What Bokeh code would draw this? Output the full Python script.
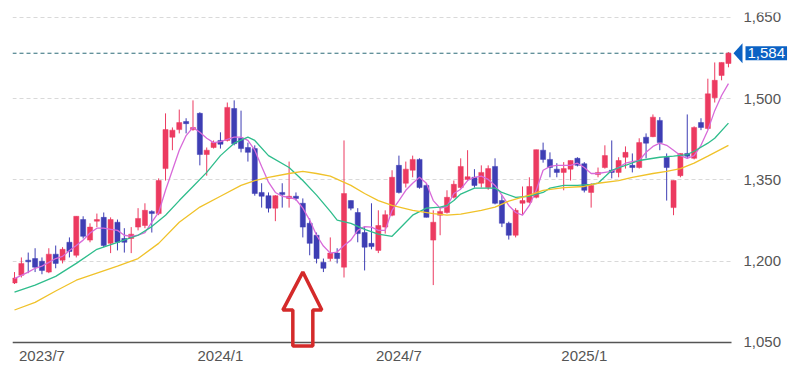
import pandas as pd
from bokeh.plotting import figure
from bokeh.models import (ColumnDataSource, Range1d, FixedTicker, DatetimeTickFormatter,
                          NumeralTickFormatter, Label, PolyAnnotation)
from bokeh.embed import file_html
from bokeh.resources import INLINE

# ---------------- data (weekly candles) ----------------
week_start = "2023-06-05"

open_ = [1160, 1174, 1202, 1205, 1200, 1180, 1213, 1202, 1235, 1211,
         1277, 1239, 1274, 1281, 1233, 1272, 1242, 1242, 1263, 1266,
         1292, 1288, 1371, 1429, 1443, 1458, 1443, 1473, 1397, 1410,
         1423, 1423, 1482, 1427, 1410, 1408, 1327, 1321, 1298, 1327,
         1316, 1320, 1307, 1270, 1248, 1198, 1205, 1215, 1189, 1312,
         1290, 1253, 1233, 1220, 1263, 1285, 1377, 1344, 1368, 1388,
         1340, 1239, 1285, 1290, 1318, 1336, 1351, 1355, 1344, 1336,
         1375, 1312, 1270, 1248, 1307, 1309, 1318, 1405, 1388, 1370,
         1364, 1370, 1390, 1380, 1327, 1360, 1373, 1368, 1364, 1392,
         1377, 1373, 1429, 1430, 1460, 1392, 1299, 1358, 1399, 1390,
         1456, 1445, 1502, 1543, 1565]
high = [1180, 1207, 1216, 1224, 1207, 1224, 1229, 1226, 1244, 1283,
        1283, 1270, 1288, 1290, 1281, 1277, 1261, 1263, 1298, 1307,
        1294, 1353, 1473, 1447, 1480, 1464, 1497, 1475, 1410, 1423,
        1438, 1493, 1497, 1478, 1419, 1414, 1344, 1327, 1322, 1344,
        1384, 1327, 1316, 1279, 1253, 1205, 1244, 1224, 1423, 1312,
        1298, 1263, 1307, 1294, 1294, 1368, 1395, 1384, 1395, 1390,
        1344, 1294, 1299, 1331, 1349, 1390, 1405, 1370, 1377, 1377,
        1390, 1322, 1273, 1298, 1338, 1355, 1406, 1419, 1401, 1381,
        1383, 1386, 1392, 1383, 1344, 1373, 1414, 1423, 1392, 1412,
        1399, 1427, 1436, 1471, 1466, 1399, 1349, 1399, 1471, 1449,
        1464, 1537, 1567, 1567, 1586]
low = [1158, 1170, 1178, 1180, 1176, 1178, 1187, 1196, 1207, 1207,
       1242, 1235, 1263, 1226, 1215, 1220, 1216, 1215, 1257, 1261,
       1253, 1285, 1349, 1405, 1436, 1436, 1441, 1377, 1358, 1408,
       1408, 1421, 1414, 1401, 1384, 1321, 1299, 1290, 1274, 1299,
       1299, 1312, 1244, 1211, 1196, 1180, 1200, 1196, 1170, 1294,
       1235, 1183, 1222, 1215, 1251, 1283, 1325, 1336, 1355, 1334,
       1281, 1156, 1248, 1288, 1316, 1334, 1349, 1336, 1336, 1332,
       1305, 1263, 1240, 1244, 1285, 1307, 1316, 1382, 1355, 1355,
       1331, 1349, 1375, 1327, 1299, 1355, 1371, 1353, 1355, 1371,
       1364, 1371, 1390, 1429, 1405, 1312, 1285, 1355, 1390, 1388,
       1442, 1443, 1493, 1534, 1558]
close = [1169, 1196, 1199, 1189, 1183, 1213, 1196, 1222, 1218, 1283,
         1246, 1263, 1277, 1229, 1277, 1235, 1235, 1250, 1279, 1294,
         1288, 1349, 1443, 1442, 1456, 1454, 1447, 1397, 1405, 1419,
         1416, 1484, 1417, 1408, 1401, 1325, 1320, 1298, 1321, 1323,
         1320, 1316, 1263, 1233, 1205, 1187, 1215, 1205, 1325, 1298,
         1251, 1226, 1227, 1266, 1286, 1355, 1327, 1370, 1388, 1336,
         1281, 1272, 1292, 1318, 1342, 1375, 1356, 1340, 1364, 1371,
         1307, 1270, 1248, 1294, 1312, 1338, 1406, 1388, 1373, 1364,
         1371, 1386, 1377, 1331, 1340, 1364, 1395, 1364, 1386, 1401,
         1373, 1419, 1418, 1466, 1419, 1373, 1349, 1399, 1394, 1447,
         1447, 1509, 1534, 1567, 1584]

# short moving average (pink), one value per week
ma_short = [1168, 1174, 1180, 1187, 1191, 1198, 1205, 1209, 1220, 1229,
            1239, 1252, 1261, 1261, 1259, 1257, 1248, 1246, 1248, 1253,
            1272, 1290, 1331, 1368, 1405, 1432, 1447, 1438, 1427, 1419,
            1421, 1425, 1429, 1429, 1423, 1405, 1375, 1346, 1327, 1320,
            1318, 1314, 1298, 1276, 1248, 1228, 1215, 1217, 1229, 1239,
            1257, 1264, 1263, 1257, 1257, 1294, 1312, 1331, 1344, 1355,
            1344, 1312, 1298, 1301, 1325, 1333, 1349, 1355, 1357, 1351,
            1340, 1322, 1303, 1290, 1285, 1303, 1331, 1368, 1375, 1377,
            1377, 1377, 1381, 1373, 1362, 1362, 1364, 1366, 1373, 1381,
            1384, 1386, 1401, 1412, 1418, 1414, 1405, 1395, 1390, 1395,
            1414, 1442, 1478, 1506, 1528]

# medium moving average (green), read at these week indices
ma_mid_idx = [0, 3, 6, 9, 12, 15, 18, 20, 22, 24, 26, 28, 30, 32, 34, 35, 37, 40, 42, 44,
              46, 47, 49, 51, 53, 55, 56, 58, 60, 62, 63, 64, 65, 67, 70, 71, 73, 75, 77, 78,
              80, 82, 84, 85, 87, 89, 91, 94, 96, 98, 99, 101, 102, 104]
ma_mid = [1143, 1156, 1172, 1196, 1222, 1235, 1248, 1264, 1285, 1312, 1338, 1364, 1395, 1418,
          1429, 1423, 1395, 1373, 1349, 1322, 1292, 1276, 1270, 1259, 1250, 1246, 1259, 1285,
          1298, 1300, 1303, 1312, 1324, 1335, 1335, 1327, 1318, 1320, 1327, 1335, 1340, 1340,
          1342, 1344, 1368, 1377, 1386, 1392, 1394, 1397, 1403, 1418, 1427, 1455]

# long moving average (yellow), read at these week indices
ma_long_idx = [0, 3, 6, 9, 12, 15, 18, 21, 24, 27, 30, 33, 35, 37, 40, 42, 44, 46, 49, 51,
               53, 55, 58, 61, 63, 65, 68, 70, 72, 75, 77, 80, 83, 85, 88, 90, 93, 95, 97, 99,
               101, 104]
ma_long = [1110, 1124, 1145, 1165, 1178, 1191, 1205, 1233, 1272, 1300, 1320, 1340, 1349, 1355,
           1362, 1366, 1362, 1357, 1340, 1325, 1312, 1303, 1294, 1288, 1285, 1287, 1294, 1300,
           1311, 1322, 1331, 1336, 1338, 1344, 1349, 1355, 1362, 1366, 1371, 1381, 1394, 1414]

tick_months = ["2023-07", "2024-01", "2024-07", "2025-01"]
y_ticks = [1050, 1200, 1350, 1500, 1650]
arrow_week = 42          # week the red marker arrow points at
arrow_tip_price = 1180

# ---------------- styles / layout ----------------
UP = "#ec3a60"
DOWN = "#3e3eb4"
BLUE = "#0b62c4"
FONT = "Liberation Sans"
LBL = "#555555"

W, H = 791, 365
FL, FT, FB = 12, 12, H            # frame left / top / bottom (px)
DATA_RIGHT = 731                  # right end of the price area (px)
PX_PER_DAY = 0.9807
PX_PER_UNIT = 0.54169
Y_TOP = 1659.2

n = len(close)
dates = pd.date_range(week_start, periods=n, freq="7D")
DAY_MS = 86400000

x_start = dates[0] - pd.Timedelta(days=2 / PX_PER_DAY)
x_edge = x_start + pd.Timedelta(days=(DATA_RIGHT - FL) / PX_PER_DAY)
x_end = x_start + pd.Timedelta(days=(W - FL) / PX_PER_DAY)
y_start = Y_TOP - (FB - FT) / PX_PER_UNIT
edge_ms = x_edge.timestamp() * 1000


def px_days(px):
    return px / PX_PER_DAY * DAY_MS


colors = [UP if c >= o else DOWN for o, c in zip(open_, close)]
src = ColumnDataSource(dict(
    date=dates, high=high, low=low,
    top=[max(o, c) for o, c in zip(open_, close)],
    bottom=[min(o, c) for o, c in zip(open_, close)],
    color=colors))

p = figure(width=W, height=H, x_axis_type="datetime", y_axis_location="right",
           x_range=Range1d(x_start, x_end), y_range=Range1d(y_start, Y_TOP),
           output_backend="svg", toolbar_location=None,
           min_border_left=FL, min_border_top=FT, min_border_right=0, min_border_bottom=0)
p.outline_line_color = None
p.background_fill_color = "white"
p.border_fill_color = "white"

# grid
p.xgrid.visible = False
p.ygrid.ticker = FixedTicker(ticks=y_ticks)
p.ygrid.grid_line_color = "#d9d9d9"
p.ygrid.grid_line_dash = "4 3"
p.ygrid.grid_line_width = 1

# y axis: placed at the right end of the price area
ya = p.yaxis[0]
ya.fixed_location = edge_ms
ya.ticker = FixedTicker(ticks=y_ticks)
ya.formatter = NumeralTickFormatter(format="0,0")
ya.axis_line_color = None
ya.major_tick_line_color = None
ya.minor_tick_line_color = None
ya.major_tick_out = 0
ya.major_tick_in = 0
ya.major_label_standoff = 12
ya.major_label_text_font = FONT
ya.major_label_text_font_size = "15px"
ya.major_label_text_color = LBL

# x axis: drawn at 1,050
tick_ms = []
for m in tick_months:
    first = [d for d in dates if d.strftime("%Y-%m") == m][0]
    tick_ms.append(first.timestamp() * 1000)
xa = p.xaxis[0]
xa.fixed_location = y_ticks[0]
xa.bounds = (x_start, x_edge)
xa.ticker = FixedTicker(ticks=tick_ms)
fmt = "%Y/%-m"
xa.formatter = DatetimeTickFormatter(days=fmt, months=fmt, years=fmt, hours=fmt, minutes=fmt)
xa.axis_line_color = "#555555"
xa.axis_line_width = 1.5
xa.major_tick_line_color = None
xa.minor_tick_line_color = None
xa.major_tick_out = 0
xa.major_tick_in = 0
xa.major_label_standoff = 5
xa.major_label_text_font = FONT
xa.major_label_text_font_size = "15px"
xa.major_label_text_color = LBL

# blank the label column (hide grid lines behind the price labels)
p.quad(left=[x_edge], right=[x_end], bottom=[y_start], top=[Y_TOP],
       fill_color="white", line_color=None)

# last price dashed line
last_price = close[-1]
p.segment(x0=[x_start], x1=[x_edge], y0=[last_price], y1=[last_price],
          line_color="#2c6a78", line_dash="4 3", line_width=1)

# candles
p.segment(x0="date", y0="high", x1="date", y1="low", color="color", line_width=1, source=src)
p.vbar(x="date", width=5.2 * DAY_MS, top="top", bottom="bottom",
       fill_color="color", line_color="color", line_width=0.5, source=src)

# moving averages
p.line(dates, ma_short, line_color="#d86ad9", line_width=1.3)
p.line([dates[i] for i in ma_mid_idx], ma_mid, line_color="#2fbd8c", line_width=1.3)
p.line([dates[i] for i in ma_long_idx], ma_long, line_color="#f0c22a", line_width=1.3)

# last price tag
tag = Label(x=edge_ms, y=last_price, x_offset=14, text=f"{last_price:,}",
            text_align="left", text_baseline="middle", text_color="white",
            text_font=FONT, text_font_size="15px",
            background_fill_color=BLUE, background_fill_alpha=1.0, padding=2)
p.add_layout(tag)
half = 10 / PX_PER_UNIT
p.add_layout(PolyAnnotation(xs=[edge_ms + px_days(2), edge_ms + px_days(11), edge_ms + px_days(11)],
                            ys=[last_price, last_price + half, last_price - half],
                            fill_color=BLUE, fill_alpha=1.0, line_color=BLUE, line_width=0))

# red outlined marker arrow
tip_ms = dates[arrow_week].timestamp() * 1000
shape = [(0, 0), (19, 38), (10, 38), (10, 74), (-10, 74), (-10, 38), (-20, 38)]
axs = [tip_ms + px_days(dx) for dx, dy in shape]
ays = [arrow_tip_price - dy / PX_PER_UNIT for dx, dy in shape]
p.add_layout(PolyAnnotation(xs=axs, ys=ays, fill_alpha=0, line_color="#d42a2a",
                            line_width=3.5, line_alpha=1.0))

open("out.html", "w").write(file_html(p, INLINE))
